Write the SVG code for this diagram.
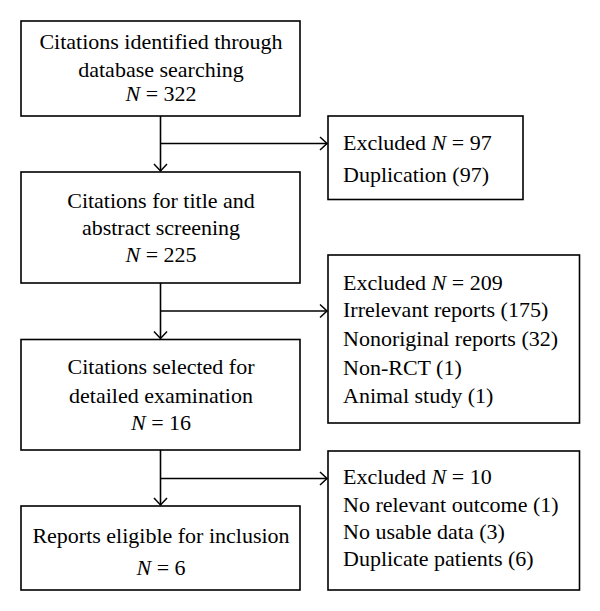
<svg xmlns="http://www.w3.org/2000/svg" width="600" height="611" viewBox="0 0 600 611">
<defs>
<marker id="arr" markerUnits="userSpaceOnUse" markerWidth="16" markerHeight="16" viewBox="-9 -8 10 16" refX="0" refY="0" orient="auto">
<path d="M -7 -6.5 L 0 0 L -7 6.5" fill="none" stroke="#000" stroke-width="1.5"/>
</marker>
</defs>
<style>
.box{fill:#fff;stroke:#000;stroke-width:1.6}
.t{font-family:"Liberation Serif","Times New Roman",serif;font-size:22px;fill:#000}
.c{text-anchor:middle}
.ln{fill:none;stroke:#000;stroke-width:1.6}
i{font-style:italic}
</style>
<rect width="600" height="611" fill="#fff"/>
<g id="connectors">
<line class="ln" x1="160.5" y1="116" x2="160.5" y2="171" marker-end="url(#arr)"/>
<line class="ln" x1="160.5" y1="143.5" x2="327" y2="143.5" marker-end="url(#arr)"/>
<line class="ln" x1="160.5" y1="283" x2="160.5" y2="338.5" marker-end="url(#arr)"/>
<line class="ln" x1="160.5" y1="311" x2="327" y2="311" marker-end="url(#arr)"/>
<line class="ln" x1="160.5" y1="450" x2="160.5" y2="505" marker-end="url(#arr)"/>
<line class="ln" x1="160.5" y1="478.5" x2="327" y2="478.5" marker-end="url(#arr)"/>
</g>
<g id="n1">
<rect class="box" x="21" y="21" width="279" height="95"/>
<text class="t c" x="161" y="49">Citations identified through</text>
<text class="t c" x="161" y="77">database searching</text>
<text class="t c" x="161" y="101"><tspan font-style="italic">N</tspan> = 322</text>
</g>
<g id="n2">
<rect class="box" x="21" y="172" width="279" height="111"/>
<text class="t c" x="161" y="208">Citations for title and</text>
<text class="t c" x="161" y="235">abstract screening</text>
<text class="t c" x="161" y="262"><tspan font-style="italic">N</tspan> = 225</text>
</g>
<g id="n3">
<rect class="box" x="21" y="339.5" width="279" height="110.5"/>
<text class="t c" x="161" y="374">Citations selected for</text>
<text class="t c" x="161" y="403">detailed examination</text>
<text class="t c" x="161" y="430"><tspan font-style="italic">N</tspan> = 16</text>
</g>
<g id="n4">
<rect class="box" x="21" y="506" width="279" height="84"/>
<text class="t c" x="161" y="543">Reports eligible for inclusion</text>
<text class="t c" x="161" y="575"><tspan font-style="italic">N</tspan> = 6</text>
</g>
<g id="e1">
<rect class="box" x="328" y="116" width="195" height="83.5"/>
<text class="t" x="343" y="149.5">Excluded <tspan font-style="italic">N</tspan> = 97</text>
<text class="t" x="343" y="181.5">Duplication (97)</text>
</g>
<g id="e2">
<rect class="box" x="328" y="255" width="251.5" height="168"/>
<text class="t" x="343" y="289.5">Excluded <tspan font-style="italic">N</tspan> = 209</text>
<text class="t" x="343" y="316.5">Irrelevant reports (175)</text>
<text class="t" x="343" y="346">Nonoriginal reports (32)</text>
<text class="t" x="343" y="375">Non-RCT (1)</text>
<text class="t" x="343" y="403">Animal study (1)</text>
</g>
<g id="e3">
<rect class="box" x="328" y="451" width="251.5" height="139"/>
<text class="t" x="343" y="484">Excluded <tspan font-style="italic">N</tspan> = 10</text>
<text class="t" x="343" y="511.5">No relevant outcome (1)</text>
<text class="t" x="343" y="538.5">No usable data (3)</text>
<text class="t" x="343" y="566">Duplicate patients (6)</text>
</g>
</svg>
